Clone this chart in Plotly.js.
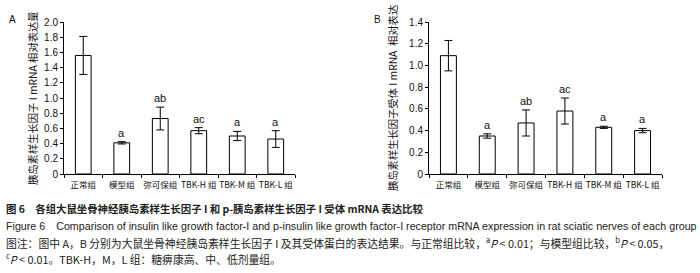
<!DOCTYPE html>
<html><head><meta charset="utf-8">
<script src="https://cdn.plot.ly/plotly-3.0.1.min.js"></script>
<style>html,body{margin:0;padding:0;background:#fff}</style>
</head><body>
<div id="chart" style="width:700px;height:273px"></div>
<script>
const categories = ["正常组", "模型组", "弥可保组", "TBK-H 组", "TBK-M 组", "TBK-L 组"];
const valuesA = [1.56, 0.41, 0.73, 0.57, 0.50, 0.46];
const errorsA = [0.25, 0.015, 0.15, 0.04, 0.06, 0.11];
const marksA = ["", "a", "ab", "ac", "a", "a"];
const valuesB = [1.09, 0.35, 0.47, 0.58, 0.43, 0.40];
const errorsB = [0.14, 0.02, 0.12, 0.12, 0.01, 0.02];
const marksB = ["", "a", "ab", "ac", "a", "a"];
const ticksA = [0, 0.2, 0.4, 0.6, 0.8, 1.0, 1.2, 1.4, 1.6, 1.8, 2.0];
const tickTextA = ["0", "0.2", "0.4", "0.6", "0.8", "1.0", "1.2", "1.4", "1.6", "1.8", "2.0"];
const ticksB = [0, 0.2, 0.4, 0.6, 0.8, 1.0, 1.2, 1.4];
const tickTextB = ["0", "0.2", "0.4", "0.6", "0.8", "1.0", "1.2", "1.4"];

const W = 700, H = 273;
const py = p => (H - p) / H;
const px = p => p / W;
const sans = "Liberation Sans, Arial, sans-serif";
const cjk = "Noto Sans CJK SC, sans-serif";

function barTrace(vals, errs, xa, ya) {
  return {
    type: "bar", x: categories, y: vals, xaxis: xa, yaxis: ya, width: 0.41,
    marker: {color: "#fff", line: {color: "#000", width: 1}},
    error_y: {type: "data", array: errs, visible: true, color: "#000", thickness: 1, width: 4},
    showlegend: false, hoverinfo: "skip"
  };
}

const annotations = [];
function addMarks(vals, errs, marks, xr, yr) {
  marks.forEach((m, i) => {
    if (!m) return;
    annotations.push({x: categories[i], y: vals[i] + errs[i], xref: xr, yref: yr, text: m,
      showarrow: false, yanchor: "bottom", yshift: 1, font: {family: sans, size: 11, color: "#111"}});
  });
}
addMarks(valuesA, errorsA, marksA, "x", "y");
addMarks(valuesB, errorsB, marksB, "x2", "y2");

annotations.push({x: px(7), y: py(12), xref: "paper", yref: "paper", text: "A", showarrow: false,
  xanchor: "left", font: {family: sans, size: 10, color: "#111"}});
annotations.push({x: px(372), y: py(12), xref: "paper", yref: "paper", text: "B", showarrow: false,
  xanchor: "left", font: {family: sans, size: 10, color: "#111"}});
annotations.push({x: px(33), y: py(98), xref: "paper", yref: "paper", textangle: -90,
  xanchor: "center", yanchor: "middle",
  text: "胰岛素样生长因子 I mRNA 相对表达量", showarrow: false,
  font: {family: cjk, size: 10.3, color: "#111"}});
annotations.push({x: px(393), y: py(98), xref: "paper", yref: "paper", textangle: -90,
  xanchor: "center", yanchor: "middle",
  text: "胰岛素样生长因子受体 I mRNA  相对表达", showarrow: false,
  font: {family: cjk, size: 10.3, color: "#111"}});

const captions = [
  {y: 209, size: 10.4, text: "<b>图 6　各组大鼠坐骨神经胰岛素样生长因子 I 和 p-胰岛素样生长因子 I 受体 mRNA 表达比较</b>", fam: cjk},
  {y: 226, size: 10.7, text: "Figure 6　Comparison of insulin like growth factor-I and p-insulin like growth factor-I receptor mRNA expression in rat sciatic nerves of each group", fam: "Liberation Sans Narrow, Arial Narrow, sans-serif"},
  {y: 242, size: 10.8, text: "图注：图中 A，B 分别为大鼠坐骨神经胰岛素样生长因子 I 及其受体蛋白的表达结果。与正常组比较，<sup>a</sup><i>P</i> &lt; 0.01；与模型组比较，<sup>b</sup><i>P</i> &lt; 0.05，", fam: cjk},
  {y: 258, size: 10.8, text: "<sup>c</sup><i>P</i> &lt; 0.01。TBK-H，M，L 组：糖痹康高、中、低剂量组。", fam: cjk}
];
captions.forEach(c => annotations.push({x: px(4), y: py(c.y), xref: "paper", yref: "paper",
  xanchor: "left", yanchor: "middle", text: c.text, showarrow: false,
  font: {family: c.fam, size: c.size, color: "#222"}}));

const xaxisBase = {
  type: "category", showline: true, linecolor: "#000", linewidth: 1, ticks: "outside",
  tickson: "boundaries", ticklen: 3, tickcolor: "#000", showgrid: false, zeroline: false,
  tickangle: 0, ticklabelstandoff: 3, tickfont: {family: cjk, size: 8.5, color: "#111"}, fixedrange: true
};
const yaxisBase = {
  showline: true, linecolor: "#000", linewidth: 1, ticks: "outside", ticklen: 3, tickcolor: "#000",
  showgrid: false, zeroline: false, tickfont: {family: sans, size: 10, color: "#111"},
  domain: [py(174), py(22)], fixedrange: true
};

const layout = {
  width: W, height: H, margin: {l: 0, r: 0, t: 0, b: 0},
  paper_bgcolor: "#fff", plot_bgcolor: "#fff", bargap: 0,
  xaxis: Object.assign({}, xaxisBase, {domain: [px(64), px(295)], anchor: "y"}),
  yaxis: Object.assign({}, yaxisBase, {range: [0, 2.0], tickvals: ticksA, ticktext: tickTextA, anchor: "x"}),
  xaxis2: Object.assign({}, xaxisBase, {domain: [px(429), px(662)], anchor: "y2"}),
  yaxis2: Object.assign({}, yaxisBase, {range: [0, 1.4], tickvals: ticksB, ticktext: tickTextB, anchor: "x2"}),
  annotations: annotations
};

Plotly.newPlot("chart", [barTrace(valuesA, errorsA, "x", "y"), barTrace(valuesB, errorsB, "x2", "y2")],
  layout, {staticPlot: true, displayModeBar: false});
</script>
</body></html>
